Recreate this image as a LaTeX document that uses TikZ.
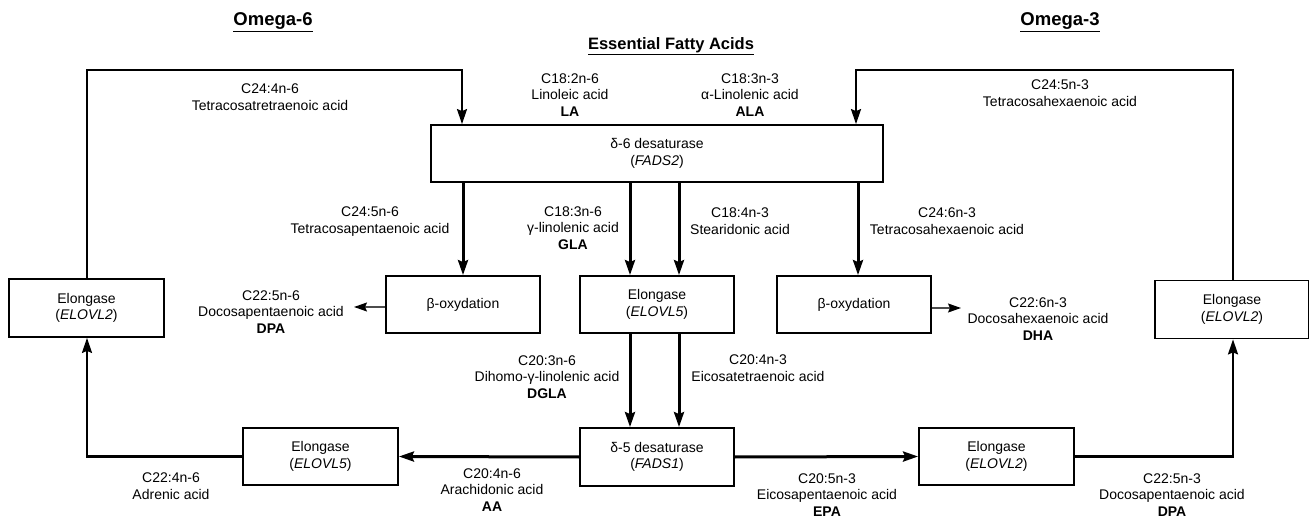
\documentclass[tikz,border=0pt]{standalone}
\usepackage{fontspec}
\setmainfont{Liberation Sans}
\usetikzlibrary{arrows.meta}
\tikzset{
  box/.style={draw=black, line width=1.8pt, minimum height=57pt, inner sep=0pt, align=center,
              font=\fontsize{14}{16.7}\selectfont},
  lbl/.style={align=center, inner sep=0pt, font=\fontsize{14}{16.7}\selectfont},
  ttl/.style={inner sep=0pt, font=\bfseries\fontsize{18.5}{20}\selectfont},
  thick arrow/.style={line width=3pt, -{Stealth[length=15pt, width=10pt, inset=2pt]}},
  loop arrow/.style={line width=2.2pt, line join=miter, -{Stealth[length=15pt, width=10pt, inset=2pt]}},
  thin arrow/.style={line width=1.4pt, draw=black!70, -{Stealth[length=13pt, width=9pt, inset=2pt, color=black]}},
}
\begin{document}
\begin{tikzpicture}[x=1pt, y=-1pt]
\useasboundingbox (0,0) rectangle (1309,518);

% titles
\node[ttl] (om6) at (273,22) {\underline{Omega-6}};
\node[ttl] (om3) at (1060,22) {\underline{Omega-3}};
\node[inner sep=0pt, font=\bfseries\fontsize{16.5}{18}\selectfont] (efa) at (671,46) {\underline{Essential Fatty Acids}};

% boxes
\node[box, minimum width=452pt] (fads2) at (657,153.5) {δ-6 desaturase\\(\textit{FADS2})};
\node[box, minimum width=155pt, minimum height=58pt] (elo2L) at (86.5,308) {Elongase\\(\textit{ELOVL2})};
\node[box, minimum width=154pt, minimum height=58pt] (elo2R) at (1232,309.5) {Elongase\\(\textit{ELOVL2})};
\node[box, minimum width=154pt] (boxL) at (463,304.5) {β-oxydation};
\node[box, minimum width=154pt] (elo5M) at (657,304.5) {Elongase\\(\textit{ELOVL5})};
\node[box, minimum width=154pt] (boxR) at (854,304.5) {β-oxydation};
\node[box, minimum width=154pt, minimum height=58pt] (fads1) at (657,457) {δ-5 desaturase\\(\textit{FADS1})};
\node[box, minimum width=155pt] (elo5B) at (320.5,456.5) {Elongase\\(\textit{ELOVL5})};
\node[box, minimum width=155pt] (elo2B) at (996.5,456.5) {Elongase\\(\textit{ELOVL2})};

% coordinates for loops
\coordinate (lt1) at (87,70);
\coordinate (lt2) at (462,70);
\coordinate (rt1) at (1233,70);
\coordinate (rt2) at (856,70);

% connectors
\draw[loop arrow] (elo2L.north -| lt1) -- (lt1) -- (lt2) -- (lt2 |- fads2.north);
\draw[loop arrow] (elo2R.north -| rt1) -- (rt1) -- (rt2) -- (rt2 |- fads2.north);

\draw[thick arrow] (fads2.south -| boxL.north) -- (boxL.north);
\draw[thick arrow] ([xshift=-27pt]fads2.south) -- ([xshift=-27pt]elo5M.north);
\draw[thick arrow] ([xshift=22pt]fads2.south) -- ([xshift=22pt]elo5M.north);
\draw[thick arrow] ([xshift=4pt]fads2.south -| boxR.north) -- ([xshift=4pt]boxR.north);

\draw[thick arrow] ([xshift=-27pt]elo5M.south) -- ([xshift=-27pt]fads1.north);
\draw[thick arrow] ([xshift=22pt]elo5M.south) -- ([xshift=22pt]fads1.north);

\draw[thick arrow] (fads1.west) -- (elo5B.east);
\draw[thick arrow] (fads1.east) -- (elo2B.west);

\coordinate (bl) at (87,456.5);
\coordinate (br) at (1233,456.5);
\draw[loop arrow] (elo5B.west) -- (bl) -- (bl |- elo2L.south);
\draw[loop arrow] (elo2B.east) -- (br) -- (br |- elo2R.south);

\coordinate (dpaL) at (354,307);
\coordinate (dhaR) at (961,308);
\draw[thin arrow] (boxL.west |- dpaL) -- (dpaL);
\draw[thin arrow] (boxR.east |- dhaR) -- (dhaR);

% labels
\node[lbl] (l1) at (270,97) {C24:4n-6\\Tetracosatretraenoic acid};
\node[lbl] (l2) at (570,95) {C18:2n-6\\Linoleic acid\\\textbf{LA}};
\node[lbl] (l3) at (750,95) {C18:3n-3\\α-Linolenic acid\\\textbf{ALA}};
\node[lbl] (l4) at (1060,93) {C24:5n-3\\Tetracosahexaenoic acid};
\node[lbl] (l5) at (370,221.5) {C24:5n-6\\Tetracosapentaenoic acid};
\node[lbl] (l6) at (573,228) {C18:3n-6\\γ-linolenic acid\\\textbf{GLA}};
\node[lbl] (l7) at (740,221.5) {C18:4n-3\\Stearidonic acid};
\node[lbl] (l8) at (947,221.5) {C24:6n-3\\Tetracosahexaenoic acid};
\node[lbl] (l9) at (271,312) {C22:5n-6\\Docosapentaenoic acid\\\textbf{DPA}};
\node[lbl] (l10) at (1038,319) {C22:6n-3\\Docosahexaenoic acid\\\textbf{DHA}};
\node[lbl] (l11) at (547,377) {C20:3n-6\\Dihomo-γ-linolenic acid\\\textbf{DGLA}};
\node[lbl] (l12) at (758,368.5) {C20:4n-3\\Eicosatetraenoic acid};
\node[lbl] (l13) at (492,490) {C20:4n-6\\Arachidonic acid\\\textbf{AA}};
\node[lbl] (l14) at (827,495) {C20:5n-3\\Eicosapentaenoic acid\\\textbf{EPA}};
\node[lbl] (l15) at (171,486.5) {C22:4n-6\\Adrenic acid};
\node[lbl] (l16) at (1172,495) {C22:5n-3\\Docosapentaenoic acid\\\textbf{DPA}};
\end{tikzpicture}
\end{document}
